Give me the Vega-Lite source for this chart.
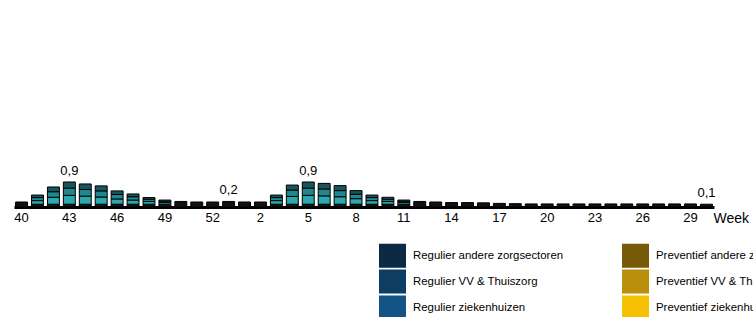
{
  "$schema": "https://vega.github.io/schema/vega-lite/v6.json",
  "autosize": {"type": "none"},
  "width": 700,
  "height": 207,
  "padding": {"left": 14, "top": 0, "right": 39, "bottom": 110},
  "background": "white",
  "config": {"view": {"stroke": null}, "font": "Liberation Sans"},
  "datasets": {
    "bars": [
      {"w": 40, "s": "base", "o": 0, "v": 0.18},
      {"w": 41, "s": "base", "o": 0, "v": 0.1}, {"w": 41, "s": "light", "o": 1, "v": 0.13}, {"w": 41, "s": "mid", "o": 2, "v": 0.11}, {"w": 41, "s": "top", "o": 3, "v": 0.09},
      {"w": 42, "s": "base", "o": 0, "v": 0.1}, {"w": 42, "s": "light", "o": 1, "v": 0.25}, {"w": 42, "s": "mid", "o": 2, "v": 0.2}, {"w": 42, "s": "top", "o": 3, "v": 0.17},
      {"w": 43, "s": "base", "o": 0, "v": 0.1}, {"w": 43, "s": "light", "o": 1, "v": 0.32}, {"w": 43, "s": "mid", "o": 2, "v": 0.26}, {"w": 43, "s": "top", "o": 3, "v": 0.22},
      {"w": 44, "s": "base", "o": 0, "v": 0.1}, {"w": 44, "s": "light", "o": 1, "v": 0.29}, {"w": 44, "s": "mid", "o": 2, "v": 0.24}, {"w": 44, "s": "top", "o": 3, "v": 0.2},
      {"w": 45, "s": "base", "o": 0, "v": 0.1}, {"w": 45, "s": "light", "o": 1, "v": 0.26}, {"w": 45, "s": "mid", "o": 2, "v": 0.22}, {"w": 45, "s": "top", "o": 3, "v": 0.18},
      {"w": 46, "s": "base", "o": 0, "v": 0.1}, {"w": 46, "s": "light", "o": 1, "v": 0.19}, {"w": 46, "s": "mid", "o": 2, "v": 0.16}, {"w": 46, "s": "top", "o": 3, "v": 0.13},
      {"w": 47, "s": "base", "o": 0, "v": 0.1}, {"w": 47, "s": "light", "o": 1, "v": 0.15}, {"w": 47, "s": "mid", "o": 2, "v": 0.12}, {"w": 47, "s": "top", "o": 3, "v": 0.1},
      {"w": 48, "s": "base", "o": 0, "v": 0.1}, {"w": 48, "s": "light", "o": 1, "v": 0.1}, {"w": 48, "s": "mid", "o": 2, "v": 0.08}, {"w": 48, "s": "top", "o": 3, "v": 0.06},
      {"w": 49, "s": "base", "o": 0, "v": 0.1}, {"w": 49, "s": "light", "o": 1, "v": 0.06}, {"w": 49, "s": "mid", "o": 2, "v": 0.05}, {"w": 49, "s": "top", "o": 3, "v": 0.04},
      {"w": 50, "s": "base", "o": 0, "v": 0.2},
      {"w": 51, "s": "base", "o": 0, "v": 0.18},
      {"w": 52, "s": "base", "o": 0, "v": 0.18},
      {"w": 53, "s": "base", "o": 0, "v": 0.2},
      {"w": 1, "s": "base", "o": 0, "v": 0.18},
      {"w": 2, "s": "base", "o": 0, "v": 0.18},
      {"w": 3, "s": "base", "o": 0, "v": 0.1}, {"w": 3, "s": "light", "o": 1, "v": 0.13}, {"w": 3, "s": "mid", "o": 2, "v": 0.11}, {"w": 3, "s": "top", "o": 3, "v": 0.09},
      {"w": 4, "s": "base", "o": 0, "v": 0.1}, {"w": 4, "s": "light", "o": 1, "v": 0.28}, {"w": 4, "s": "mid", "o": 2, "v": 0.23}, {"w": 4, "s": "top", "o": 3, "v": 0.18},
      {"w": 5, "s": "base", "o": 0, "v": 0.1}, {"w": 5, "s": "light", "o": 1, "v": 0.32}, {"w": 5, "s": "mid", "o": 2, "v": 0.26}, {"w": 5, "s": "top", "o": 3, "v": 0.22},
      {"w": 6, "s": "base", "o": 0, "v": 0.1}, {"w": 6, "s": "light", "o": 1, "v": 0.3}, {"w": 6, "s": "mid", "o": 2, "v": 0.25}, {"w": 6, "s": "top", "o": 3, "v": 0.2},
      {"w": 7, "s": "base", "o": 0, "v": 0.1}, {"w": 7, "s": "light", "o": 1, "v": 0.27}, {"w": 7, "s": "mid", "o": 2, "v": 0.22}, {"w": 7, "s": "top", "o": 3, "v": 0.18},
      {"w": 8, "s": "base", "o": 0, "v": 0.1}, {"w": 8, "s": "light", "o": 1, "v": 0.2}, {"w": 8, "s": "mid", "o": 2, "v": 0.16}, {"w": 8, "s": "top", "o": 3, "v": 0.13},
      {"w": 9, "s": "base", "o": 0, "v": 0.1}, {"w": 9, "s": "light", "o": 1, "v": 0.13}, {"w": 9, "s": "mid", "o": 2, "v": 0.11}, {"w": 9, "s": "top", "o": 3, "v": 0.09},
      {"w": 10, "s": "base", "o": 0, "v": 0.1}, {"w": 10, "s": "light", "o": 1, "v": 0.1}, {"w": 10, "s": "mid", "o": 2, "v": 0.08}, {"w": 10, "s": "top", "o": 3, "v": 0.07},
      {"w": 11, "s": "base", "o": 0, "v": 0.1}, {"w": 11, "s": "light", "o": 1, "v": 0.06}, {"w": 11, "s": "mid", "o": 2, "v": 0.05}, {"w": 11, "s": "top", "o": 3, "v": 0.04},
      {"w": 12, "s": "base", "o": 0, "v": 0.2},
      {"w": 13, "s": "base", "o": 0, "v": 0.18},
      {"w": 14, "s": "base", "o": 0, "v": 0.16},
      {"w": 15, "s": "base", "o": 0, "v": 0.16},
      {"w": 16, "s": "base", "o": 0, "v": 0.15},
      {"w": 17, "s": "base", "o": 0, "v": 0.13},
      {"w": 18, "s": "base", "o": 0, "v": 0.12},
      {"w": 19, "s": "base", "o": 0, "v": 0.11},
      {"w": 20, "s": "base", "o": 0, "v": 0.11},
      {"w": 21, "s": "base", "o": 0, "v": 0.11},
      {"w": 22, "s": "base", "o": 0, "v": 0.11},
      {"w": 23, "s": "base", "o": 0, "v": 0.11},
      {"w": 24, "s": "base", "o": 0, "v": 0.11},
      {"w": 25, "s": "base", "o": 0, "v": 0.11},
      {"w": 26, "s": "base", "o": 0, "v": 0.11},
      {"w": 27, "s": "base", "o": 0, "v": 0.11},
      {"w": 28, "s": "base", "o": 0, "v": 0.11},
      {"w": 29, "s": "base", "o": 0, "v": 0.11},
      {"w": 30, "s": "base", "o": 0, "v": 0.1}
    ],
    "labels": [
      {"w": 43, "t": 0.9, "l": "0,9"},
      {"w": 53, "t": 0.2, "l": "0,2"},
      {"w": 5, "t": 0.9, "l": "0,9"},
      {"w": 30, "t": 0.1, "l": "0,1"}
    ]
  },
  "encoding": {
    "x": {
      "field": "w", "type": "ordinal",
      "sort": [40,41,42,43,44,45,46,47,48,49,50,51,52,53,1,2,3,4,5,6,7,8,9,10,11,12,13,14,15,16,17,18,19,20,21,22,23,24,25,26,27,28,29,30],
      "scale": {"paddingInner": 0.25, "paddingOuter": 0.1},
      "axis": {
        "values": [40,43,46,49,52,2,5,8,11,14,17,20,23,26,29],
        "labelAngle": 0, "ticks": false, "domainWidth": 3, "domainColor": "black",
        "labelFontSize": 13, "labelColor": "black", "labelPadding": 4, "labelFont": "Liberation Sans",
        "title": "Week", "titleFontSize": 14, "titleFontWeight": "normal", "titleColor": "black",
        "titleFont": "Liberation Sans", "titleAnchor": "start", "titleAlign": "left",
        "titleX": 699, "titleY": 15, "titleBaseline": "alphabetic"
      }
    }
  },
  "layer": [
    {
      "data": {"name": "bars"},
      "mark": {"type": "bar", "stroke": "black", "strokeWidth": 1},
      "encoding": {
        "y": {"field": "v", "type": "quantitative", "stack": "zero", "scale": {"domain": [0, 7.45], "nice": false}, "axis": null},
        "order": {"field": "o"},
        "color": {
          "field": "s", "type": "nominal",
          "scale": {
            "domain": ["base", "light", "mid", "top", "Regulier andere zorgsectoren", "Regulier VV & Thuiszorg", "Regulier ziekenhuizen", "Preventief andere zorgsectoren", "Preventief VV & Thuiszorg", "Preventief ziekenhuizen"],
            "range": ["#111111", "#2aa8ac", "#1f888e", "#16575d", "#0c2a44", "#0e3d63", "#125486", "#775a08", "#b98f0c", "#f6c102"]
          },
          "legend": {
            "values": ["Regulier andere zorgsectoren", "Regulier VV & Thuiszorg", "Regulier ziekenhuizen", "Preventief andere zorgsectoren", "Preventief VV & Thuiszorg", "Preventief ziekenhuizen"],
            "title": null, "orient": "none", "legendX": 365, "legendY": 242,
            "columns": 2, "columnPadding": 58, "rowPadding": 0,
            "symbolType": "M-1,-0.89H1V0.89H-1Z", "symbolSize": 729, "symbolStrokeWidth": 0, "symbolOpacity": 1,
            "labelFontSize": 11.4, "labelFont": "Liberation Sans", "labelColor": "black", "labelOffset": 7, "labelLimit": 400
          }
        }
      }
    },
    {
      "data": {"name": "labels"},
      "mark": {"type": "text", "baseline": "bottom", "dy": -4, "fontSize": 13, "font": "Liberation Sans", "color": "black"},
      "encoding": {
        "y": {"field": "t", "type": "quantitative"},
        "text": {"field": "l"}
      }
    }
  ]
}
